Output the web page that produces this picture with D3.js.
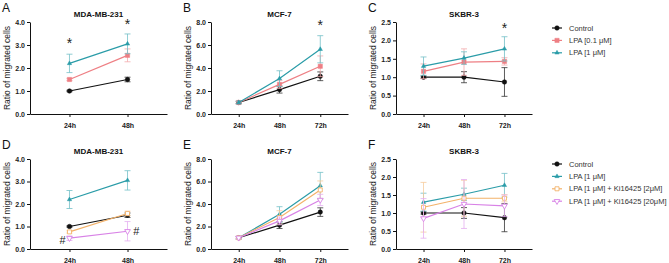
<!DOCTYPE html>
<html>
<head>
<meta charset="utf-8">
<script src="https://cdn.jsdelivr.net/npm/d3@7"></script>
<style>
  body { margin: 0; background: #fff; }
  svg { display: block; font-family: "Liberation Sans", Arial, sans-serif; }
</style>
</head>
<body>
<svg width="669" height="263"></svg>
<script>
// time points
const times2 = ['24h', '48h'];
const times3 = ['24h', '48h', '72h'];

// MDA-MB-231 (panels A and D)
const mdaControl = [1.0, 1.5];
const mdaControlErr = [0.03, 0.1];
const mdaLpa01 = [1.5, 2.55];
const mdaLpa01Err = [0.05, 0.28];
const mdaLpa1 = [2.2, 3.05];
const mdaLpa1Err = [0.4, 0.43];
const mdaKi2 = [0.76, 1.58];
const mdaKi2Err = [0.05, 0.1];
const mdaKi20 = [0.48, 0.79];
const mdaKi20Err = [0.1, 0.43];

// MCF-7 (panels B and E)
const mcfControl = [1.0, 2.12, 3.28];
const mcfControlErr = [0.1, 0.3, 0.38];
const mcfLpa01 = [1.0, 2.58, 4.15];
const mcfLpa01Err = [0.1, 0.35, 0.9];
const mcfLpa1 = [1.0, 3.08, 5.63];
const mcfLpa1Err = [0.12, 0.68, 1.18];
const mcfKi2 = [1.0, 2.8, 5.25];
const mcfKi2Err = [0.1, 0.6, 0.8];
const mcfKi20 = [1.0, 2.5, 4.36];
const mcfKi20Err = [0.1, 0.35, 0.5];

// SKBR-3 (panels C and F)
const skbControl = [1.0, 1.0, 0.87];
const skbControlErr = [0.03, 0.15, 0.39];
const skbLpa01 = [1.16, 1.41, 1.43];
const skbLpa01Err = [0.2, 0.36, 0.1];
const skbLpa1 = [1.3, 1.52, 1.77];
const skbLpa1Err = [0.25, 0.17, 0.33];
const skbKi2 = [1.16, 1.41, 1.41];
const skbKi2Err = [0.69, 0.5, 0.1];
const skbKi20 = [0.85, 1.25, 1.2];
const skbKi20Err = [0.55, 0.68, 0.3];

// y axis ticks
const ticks4 = [0, 1, 2, 3, 4];
const ticks8 = [0, 2, 4, 6, 8];
const ticks25 = [0, 0.5, 1, 1.5, 2, 2.5];

// legend labels
const legendTop = ['Control', 'LPA [0.1 μM]', 'LPA [1 μM]'];
const legendBottom = ['Control', 'LPA [1 μM]', 'LPA [1 μM] + Ki16425 [2μM]', 'LPA [1 μM] + Ki16425 [20μM]'];

// series styles
const styles = {
  control: { color: '#111', err: '#333', shape: d3.symbolCircle, size: 16, fill: true },
  lpa01: { color: '#ee7f84', err: '#f3a9ac', shape: d3.symbolSquare, size: 18, fill: true },
  lpa1: { color: '#2a9ca8', err: '#74c0c8', shape: d3.symbolTriangle, size: 8, fill: true },
  ki2: { color: '#f3b26a', err: '#f6cc9c', shape: d3.symbolSquare, size: 16, fill: false },
  ki20: { color: '#d882e6', err: '#e5aef0', shape: d3.symbolTriangle, size: 14, fill: false, flip: true }
};

const svg = d3.select('svg');

const rowTop = { y0: 22, y1: 114 };
const rowBot = { y0: 159, y1: 249 };

const panels = [
  { letter: 'A', title: 'MDA-MB-231', x0: 30, x1: 167, row: rowTop, max: 4, ticks: ticks4, times: times2,
    series: [['control', mdaControl, mdaControlErr], ['lpa01', mdaLpa01, mdaLpa01Err], ['lpa1', mdaLpa1, mdaLpa1Err]],
    marks: [['*', 0, 3.05], ['*', 1, 3.85]] },
  { letter: 'B', title: 'MCF-7', x0: 211, x1: 348, row: rowTop, max: 8, ticks: ticks8, times: times3,
    series: [['control', mcfControl, mcfControlErr], ['lpa01', mcfLpa01, mcfLpa01Err], ['lpa1', mcfLpa1, mcfLpa1Err]],
    marks: [['*', 2, 7.6]] },
  { letter: 'C', title: 'SKBR-3', x0: 396, x1: 532, row: rowTop, max: 2.5, ticks: ticks25, times: times3,
    series: [['control', skbControl, skbControlErr], ['lpa01', skbLpa01, skbLpa01Err], ['lpa1', skbLpa1, skbLpa1Err]],
    marks: [['*', 2, 2.3]] },
  { letter: 'D', title: 'MDA-MB-231', x0: 30, x1: 167, row: rowBot, max: 4, ticks: ticks4, times: times2,
    series: [['control', mdaControl, mdaControlErr], ['lpa1', mdaLpa1, mdaLpa1Err], ['ki2', mdaKi2, mdaKi2Err], ['ki20', mdaKi20, mdaKi20Err]],
    marks: [['#', -0.12, 0.33], ['#', 1.15, 0.75]] },
  { letter: 'E', title: 'MCF-7', x0: 211, x1: 348, row: rowBot, max: 8, ticks: ticks8, times: times3,
    series: [['control', mcfControl, mcfControlErr], ['lpa1', mcfLpa1, mcfLpa1Err], ['ki2', mcfKi2, mcfKi2Err], ['ki20', mcfKi20, mcfKi20Err]],
    marks: [] },
  { letter: 'F', title: 'SKBR-3', x0: 396, x1: 532, row: rowBot, max: 2.5, ticks: ticks25, times: times3,
    series: [['control', skbControl, skbControlErr], ['lpa1', skbLpa1, skbLpa1Err], ['ki2', skbKi2, skbKi2Err], ['ki20', skbKi20, skbKi20Err]],
    marks: [] }
];

function drawPanel(p) {
  const g = svg.append('g');
  const x = d3.scalePoint().domain(p.times).range([p.x0, p.x1]).padding(0.68);
  const y = d3.scaleLinear().domain([0, p.max]).range([p.row.y1, p.row.y0]);

  // axes
  const yAxis = g.append('g').attr('transform', `translate(${p.x0},0)`)
    .call(d3.axisLeft(y).tickValues(p.ticks).tickFormat(d3.format('.1f')).tickSize(3).tickPadding(2).tickSizeOuter(0));
  const xAxis = g.append('g').attr('transform', `translate(0,${p.row.y1})`)
    .call(d3.axisBottom(x).tickSize(3).tickPadding(6).tickSizeOuter(0));
  [yAxis, xAxis].forEach(a => {
    a.selectAll('path, line').attr('stroke', '#111').attr('stroke-width', 1);
    a.selectAll('text').attr('font-size', 7).attr('font-weight', 'bold').attr('fill', '#222')
      .attr('font-family', '"Liberation Sans", Arial, sans-serif');
  });

  // labels
  g.append('text')
    .attr('transform', `translate(${p.x0 - 20},${(p.row.y0 + p.row.y1) / 2}) rotate(-90)`)
    .attr('text-anchor', 'middle').attr('font-size', 8.5).attr('fill', '#222')
    .text('Ratio of migrated cells');
  g.append('text').attr('x', (p.x0 + p.x1) / 2).attr('y', p.row.y0 - 5)
    .attr('text-anchor', 'middle').attr('font-size', 8).attr('font-weight', 'bold').attr('fill', '#111')
    .text(p.title);
  g.append('text').attr('x', p.x0 - 28).attr('y', p.row.y0 - 10)
    .attr('font-size', 12).attr('fill', '#111').text(p.letter);

  // series
  const line = d3.line();
  p.series.forEach(([key, vals, errs]) => {
    const s = styles[key];
    const pts = vals.map((v, i) => [x(p.times[i]), y(v)]);
    // error bars
    vals.forEach((v, i) => {
      const cx = x(p.times[i]);
      const lo = y(v - errs[i]), hi = y(v + errs[i]);
      g.append('line').attr('x1', cx).attr('x2', cx).attr('y1', lo).attr('y2', hi)
        .attr('stroke', s.err).attr('stroke-width', 0.8);
      [lo, hi].forEach(yy => g.append('line').attr('x1', cx - 3).attr('x2', cx + 3).attr('y1', yy).attr('y2', yy)
        .attr('stroke', s.err).attr('stroke-width', 0.8));
    });
    g.append('path').attr('d', line(pts)).attr('fill', 'none')
      .attr('stroke', s.color).attr('stroke-width', 1.2);
    pts.forEach(([px, py]) => drawMarker(g, s, px, py));
  });

  // significance marks
  p.marks.forEach(([ch, i, v]) => {
    const xi = x(p.times[0]) + i * (x(p.times[1]) - x(p.times[0]));
    g.append('text').attr('x', xi).attr('y', y(v))
      .attr('text-anchor', 'middle').attr('dominant-baseline', 'middle')
      .attr('font-size', ch === '*' ? 14 : 11).attr('fill', '#222').text(ch);
  });
}

function drawMarker(g, s, px, py) {
  g.append('path')
    .attr('d', d3.symbol().type(s.shape).size(s.size)())
    .attr('transform', `translate(${px},${py})${s.flip ? ' rotate(180)' : ''}`)
    .attr('fill', s.fill ? s.color : '#fff')
    .attr('stroke', s.color).attr('stroke-width', s.fill ? 0.5 : 0.9);
}

panels.forEach(drawPanel);

// legends
function drawLegend(keys, labels, y0) {
  const g = svg.append('g');
  keys.forEach((k, i) => {
    const s = styles[k];
    const yy = y0 + i * 12.4;
    g.append('line').attr('x1', 552).attr('x2', 562).attr('y1', yy).attr('y2', yy)
      .attr('stroke', s.color).attr('stroke-width', 1.2);
    drawMarker(g, s, 557, yy);
    g.append('text').attr('x', 569).attr('y', yy).attr('dominant-baseline', 'central')
      .attr('font-size', 7.5).attr('fill', '#333').text(labels[i]);
  });
}
drawLegend(['control', 'lpa01', 'lpa1'], legendTop, 28);
drawLegend(['control', 'lpa1', 'ki2', 'ki20'], legendBottom, 164);
</script>
</body>
</html>
